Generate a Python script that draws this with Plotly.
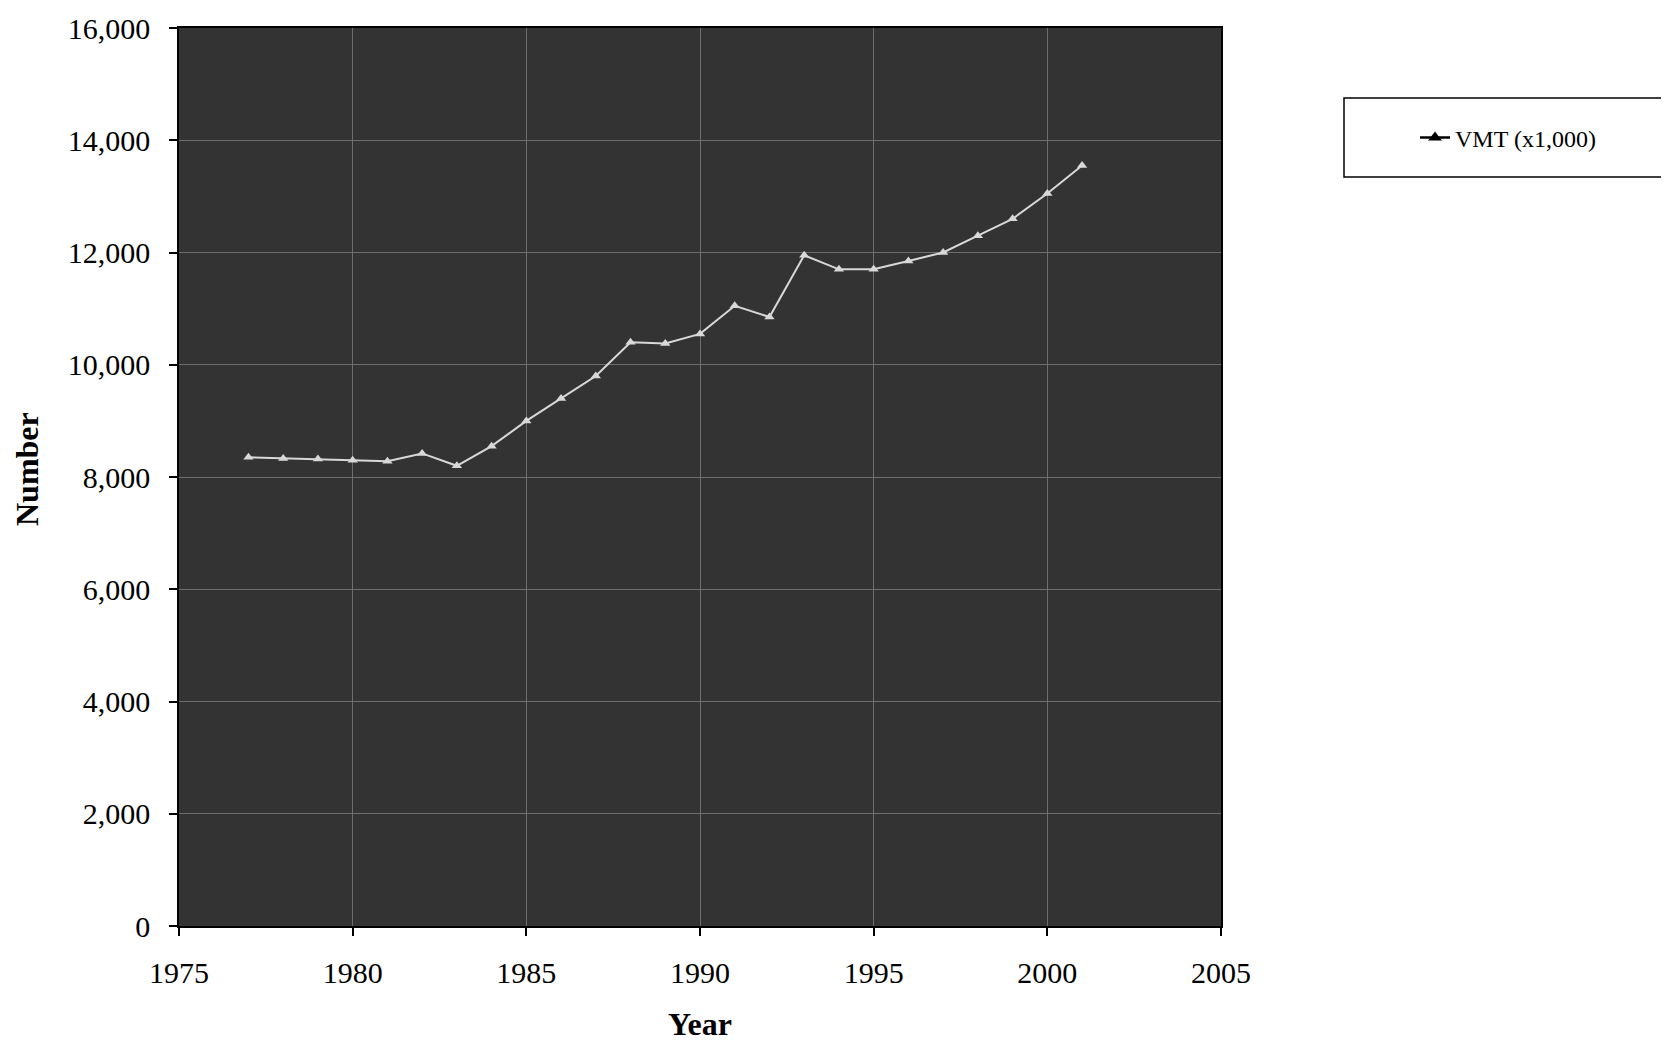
import plotly.graph_objects as go

years = [1977, 1978, 1979, 1980, 1981, 1982, 1983, 1984, 1985, 1986, 1987, 1988,
         1989, 1990, 1991, 1992, 1993, 1994, 1995, 1996, 1997, 1998, 1999, 2000, 2001]
vmt = [8350, 8330, 8320, 8300, 8280, 8420, 8200, 8550, 9000, 9400, 9800, 10400,
       10380, 10550, 11050, 10850, 11950, 11700, 11700, 11850, 12000, 12300, 12600, 13050, 13550]
series_name = "VMT (x1,000)"
x_ticks = [1975, 1980, 1985, 1990, 1995, 2000, 2005]
y_ticks = [0, 2000, 4000, 6000, 8000, 10000, 12000, 14000, 16000]

FONT = "Liberation Serif"

fig = go.Figure()
fig.add_trace(go.Scatter(
    x=years, y=vmt, mode="lines+markers",
    line=dict(color="#d8d8d8", width=2),
    marker=dict(symbol="triangle-up", size=9, color="#d8d8d8"),
    showlegend=False, hoverinfo="x+y"))
# legend entry (black, as in the printed legend)
fig.add_trace(go.Scatter(
    x=[None], y=[None], mode="lines+markers", name=series_name,
    line=dict(color="black", width=2.5),
    marker=dict(symbol="triangle-up", size=12, color="black")))

L, R, T, B = 171, 456, 20, 123
W, H = 1669, 1041
pw = W - L - R
ph = H - T - B

def px(x):
    return (x - L) / pw

def py(y):
    return (H - B - y) / ph

fig.update_layout(
    width=W, height=H,
    margin=dict(l=L, r=R, t=T, b=B, autoexpand=False),
    paper_bgcolor="white", plot_bgcolor="#333333",
    font=dict(family=FONT, color="black", size=30),
    showlegend=True,
    legend=dict(x=px(1500), y=py(130), xanchor="center", yanchor="middle",
                bgcolor="rgba(0,0,0,0)", borderwidth=0,
                font=dict(family=FONT, size=24, color="black")),
    shapes=[dict(type="rect", xref="paper", yref="paper",
                 x0=px(1336), x1=px(1672), y0=py(169), y1=py(90),
                 line=dict(color="black", width=1.5), fillcolor="white", layer="below")],
    annotations=[
        dict(text="<b>Year</b>", xref="paper", yref="paper", x=0.5, y=py(1016),
             xanchor="center", yanchor="middle", showarrow=False,
             font=dict(family=FONT, size=32, color="black")),
        dict(text="<b>Number</b>", xref="paper", yref="paper", x=px(19), y=py(461),
             xanchor="center", yanchor="middle", showarrow=False, textangle=-90,
             font=dict(family=FONT, size=32, color="black")),
    ],
)

fig.update_xaxes(
    range=[1975, 2005], tickvals=x_ticks, ticktext=[str(v) for v in x_ticks],
    showgrid=True, gridcolor="#6e6e6e", gridwidth=1,
    ticks="outside", ticklen=8, tickcolor="black", tickwidth=1.5,
    showline=True, linecolor="black", linewidth=1.5, mirror=True,
    zeroline=False, tickfont=dict(family=FONT, size=30), ticklabelstandoff=11)
fig.update_yaxes(
    range=[0, 16000], tickvals=y_ticks, ticktext=[f"{v:,}" for v in y_ticks],
    showgrid=True, gridcolor="#6e6e6e", gridwidth=1,
    ticks="outside", ticklen=8, tickcolor="black", tickwidth=1.5,
    showline=True, linecolor="black", linewidth=1.5, mirror=True,
    zeroline=False, tickfont=dict(family=FONT, size=30), ticklabelstandoff=13)

fig.write_html("out.html")
